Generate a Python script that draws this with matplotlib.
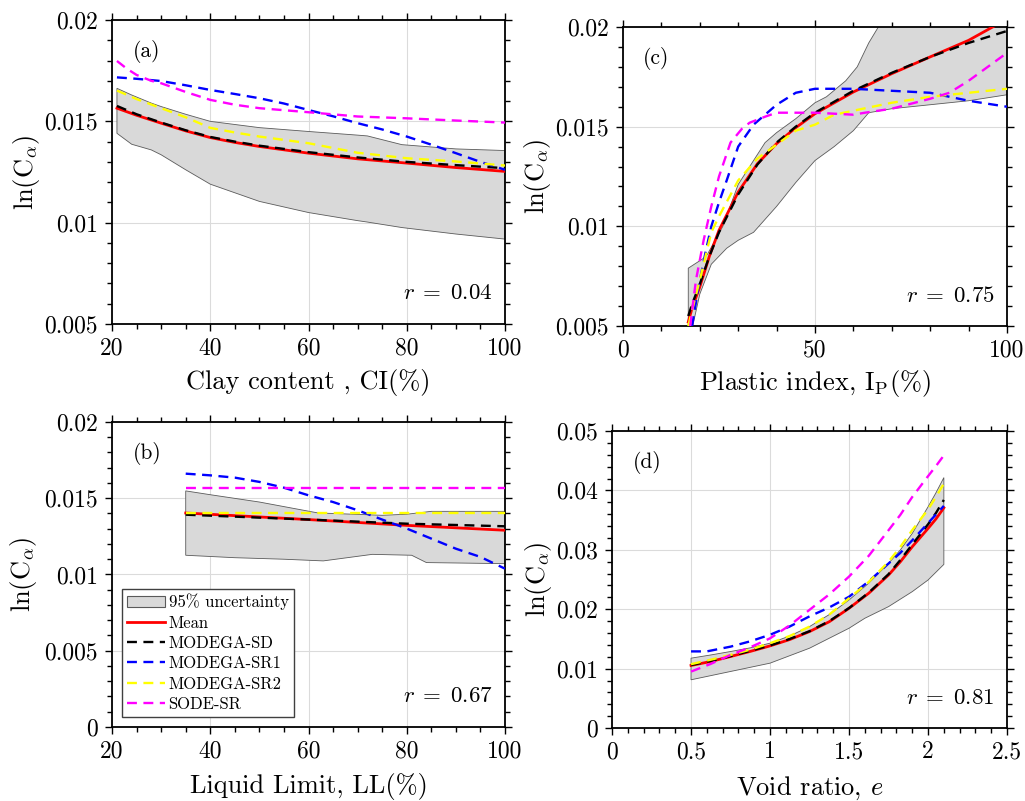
import matplotlib
matplotlib.use("Agg")
import numpy as np
import matplotlib.pyplot as plt
from matplotlib.ticker import MultipleLocator, FuncFormatter
from matplotlib.patches import Patch
from matplotlib.lines import Line2D

plt.rcParams['font.family'] = 'cmr10'
plt.rcParams['mathtext.fontset'] = 'cm'
plt.rcParams['axes.formatter.use_mathtext'] = True
plt.rcParams['axes.unicode_minus'] = False

# (a) clay content
a_band_x = [21, 24, 28, 30, 35, 40, 50, 60, 70, 72, 79, 90, 100]
a_band_hi = [0.01663, 0.0163, 0.0159, 0.01573, 0.01535, 0.0150, 0.01469, 0.0145, 0.01432, 0.01428, 0.01385, 0.01364, 0.01356]
a_band_lo = [0.01441, 0.01387, 0.01359, 0.01335, 0.01261, 0.0119, 0.01105, 0.0105, 0.0101, 0.01003, 0.00976, 0.00944, 0.00919]
a_x = [21, 25, 30, 35, 40, 45, 50, 60, 70, 80, 90, 100]
a_mean = [0.01565, 0.0153, 0.01491, 0.01453, 0.0142, 0.01396, 0.01376, 0.01343, 0.01315, 0.01294, 0.01272, 0.01253]
a_sd = [0.01576, 0.01535, 0.01494, 0.01456, 0.01423, 0.014, 0.0138, 0.01348, 0.01322, 0.013, 0.01284, 0.01269]
a_sr2 = [0.01652, 0.0161, 0.01565, 0.0152, 0.01468, 0.01445, 0.01425, 0.01392, 0.01345, 0.01318, 0.01302, 0.01282]
a_sr1_x = [21, 25, 30, 35, 40, 45, 50, 55, 60, 65, 70, 75, 80, 85, 90, 95, 100]
a_sr1 = [0.01717, 0.0171, 0.01699, 0.01678, 0.01655, 0.01635, 0.01614, 0.01588, 0.01556, 0.01525,
         0.01491, 0.0146, 0.01425, 0.01385, 0.01343, 0.013, 0.01261]
a_sode_x = [21, 23, 25, 28, 30, 35, 40, 45, 50, 60, 70, 80, 90, 100]
a_sode = [0.01798, 0.0176, 0.01729, 0.017, 0.01688, 0.01645, 0.01606, 0.01582, 0.01565, 0.01545,
          0.01524, 0.01515, 0.01504, 0.01494]

# (b) liquid limit
b_band_hi_x = [35, 40, 50, 62, 65, 75, 80, 85, 100]
b_band_hi = [0.01548, 0.01523, 0.01475, 0.01403, 0.0140, 0.01388, 0.01395, 0.01414, 0.01414]
b_band_lo_x = [35, 45, 55, 63, 73, 81, 84, 100]
b_band_lo = [0.01126, 0.0111, 0.0110, 0.01089, 0.01132, 0.01126, 0.01078, 0.01071]
b_x = [35, 60, 80, 100]
b_mean = [0.01403, 0.0136, 0.01322, 0.0129]
b_sd = [0.01392, 0.0136, 0.01333, 0.01316]
b_sr2 = [0.01403, 0.01403, 0.01403, 0.01403]
b_sode = [0.01567, 0.01567, 0.01567, 0.01567]
b_sr1_x = [35, 40, 45, 50, 55, 60, 65, 70, 75, 80, 85, 90, 95, 100]
b_sr1 = [0.01661, 0.0165, 0.01635, 0.01607, 0.01569, 0.01519, 0.01475, 0.01421, 0.0136, 0.01301,
         0.01235, 0.01169, 0.01115, 0.01038]

# (c) plastic index
c_band_hi_x = [17, 21, 22, 26, 30, 37, 40, 45, 50, 53, 58, 61, 64, 66.5, 75, 100]
c_band_hi = [0.0079, 0.0084, 0.0086, 0.0100, 0.0121, 0.0142, 0.0147, 0.0154, 0.0162, 0.0165, 0.0173,
             0.0180, 0.0192, 0.0200, 0.0215, 0.0250]
c_band_lo_x = [17, 20, 23, 27, 30, 34, 40, 45, 50, 55, 60, 64, 70, 80, 90, 100]
c_band_lo = [0.0040, 0.0066, 0.0081, 0.0089, 0.0093, 0.0097, 0.0110, 0.0122, 0.0133, 0.0140, 0.0148,
             0.0157, 0.0159, 0.0161, 0.0163, 0.0166]
c_x = [17, 18, 20, 22.5, 25, 30, 35, 40, 45, 50, 60, 70, 80, 90, 100]
c_mean = [0.0052, 0.0059, 0.00696, 0.0085, 0.0098, 0.01172, 0.01314, 0.01415, 0.01495, 0.01565,
          0.01674, 0.01766, 0.0185, 0.01933, 0.0204]
c_sd = [0.0055, 0.0061, 0.0071, 0.0085, 0.0097, 0.0116, 0.0131, 0.0142, 0.0150, 0.0157, 0.0168,
        0.0177, 0.0185, 0.0192, 0.0198]
c_sr2_x = [17, 18, 20, 23, 25, 30, 35, 40, 45, 50, 55, 60, 70, 80, 90, 100]
c_sr2 = [0.0050, 0.0058, 0.0073, 0.0097, 0.0105, 0.0123, 0.0134, 0.0141, 0.0148, 0.0151, 0.0156,
         0.0158, 0.0162, 0.0165, 0.0167, 0.0169]
c_sr1_x = [18, 19.5, 21.5, 23, 25, 27, 30, 34, 37, 40, 45, 50, 60, 70, 80, 90, 100]
c_sr1 = [0.0050, 0.0068, 0.0087, 0.0100, 0.0112, 0.0123, 0.0140, 0.0151, 0.0156, 0.0161, 0.0167,
         0.0169, 0.0169, 0.0168, 0.0167, 0.0163, 0.0160]
c_sode_x = [17.5, 19, 21, 23, 25, 28, 31, 33, 37, 40, 50, 60, 63, 70, 80, 85, 90, 100]
c_sode = [0.0050, 0.0073, 0.0093, 0.0110, 0.0125, 0.0142, 0.0149, 0.0152, 0.0155, 0.0157, 0.0157,
          0.0156, 0.0157, 0.0159, 0.0164, 0.0167, 0.0173, 0.0187]

# (d) void ratio
d_x = [0.5, 0.625, 0.75, 0.875, 1.0, 1.125, 1.25, 1.375, 1.5, 1.625, 1.75, 1.825, 1.9, 2.0, 2.05, 2.1]
d_band_hi = [0.01176, 0.0123, 0.01288, 0.0135, 0.01428, 0.0155, 0.01708, 0.0191, 0.02156, 0.0244,
             0.02772, 0.0300, 0.03276, 0.03724, 0.0396, 0.04216]
d_band_lo_x = [0.5, 0.75, 1.0, 1.25, 1.5, 1.6, 1.75, 1.9, 2.0, 2.1]
d_band_lo = [0.00812, 0.00952, 0.01092, 0.01344, 0.0168, 0.01848, 0.02044, 0.02296, 0.02492, 0.02755]
d_mean = [0.01053, 0.0112, 0.01204, 0.0129, 0.01383, 0.0149, 0.01624, 0.0179, 0.02016, 0.0227,
          0.02576, 0.0280, 0.03052, 0.0336, 0.0352, 0.03707]
d_sd = [0.0106, 0.0113, 0.0121, 0.0130, 0.0139, 0.0150, 0.0163, 0.0180, 0.0202, 0.0228, 0.0259,
        0.0283, 0.0309, 0.0343, 0.0362, 0.0384]
d_sr2 = [0.01075, 0.0115, 0.0123, 0.0132, 0.01428, 0.0155, 0.01708, 0.0191, 0.02184, 0.0246, 0.028,
         0.0305, 0.03332, 0.0368, 0.0389, 0.04115]
d_sr1_x = [0.5, 0.6, 0.75, 0.875, 1.0, 1.125, 1.25, 1.375, 1.5, 1.625, 1.75, 1.825, 1.9, 2.0, 2.1]
d_sr1 = [0.0129, 0.0129, 0.0137, 0.0146, 0.0157, 0.0171, 0.0188, 0.0203, 0.0221, 0.0247, 0.0277,
         0.0295, 0.0316, 0.0345, 0.0374]
d_sode = [0.0095, 0.0108, 0.0123, 0.0136, 0.0151, 0.0173, 0.0199, 0.0225, 0.0255, 0.0290, 0.0333,
          0.0359, 0.0389, 0.0424, 0.0441, 0.0459]

BAND_FC = '#d9d9d9'
BAND_EC = '#5a5a5a'
DASH = (4.2, 2.75)
LW_MEAN = 2.0
LW = 1.7
fmt = FuncFormatter(lambda v, p: f'{v:g}')


def draw_panel(rect, band, curves, xlim, ylim, xmaj, xmin, ymaj, ymin,
               xlabel, tag, rtext, ylab_x, xlab_y):
    ax = fig.add_axes(rect)
    hx, hy, lx, ly = band
    ax.fill(np.concatenate([hx, lx[::-1]]), np.concatenate([hy, ly[::-1]]),
            facecolor=BAND_FC, edgecolor=BAND_EC, lw=0.6, zorder=2)
    for x, y, col, ls in curves:
        if ls == '-':
            ax.plot(x, y, color=col, lw=LW_MEAN, zorder=3)
        else:
            ax.plot(x, y, color=col, lw=LW, dashes=DASH, zorder=3)
    ax.set_xlim(xlim)
    ax.set_ylim(ylim)
    ax.xaxis.set_major_locator(MultipleLocator(xmaj))
    ax.xaxis.set_minor_locator(MultipleLocator(xmin))
    ax.yaxis.set_major_locator(MultipleLocator(ymaj))
    ax.yaxis.set_minor_locator(MultipleLocator(ymin))
    ax.xaxis.set_major_formatter(fmt)
    ax.yaxis.set_major_formatter(fmt)
    ax.tick_params(which='both', direction='out', top=True, right=True,
                   labelsize=17, width=1.0)
    ax.tick_params(which='major', length=5)
    ax.tick_params(which='minor', length=3.5)
    ax.tick_params(axis='x', pad=4.5)
    ax.tick_params(axis='y', pad=5)
    for s in ax.spines.values():
        s.set_linewidth(1.3)
    ax.grid(True, which='major', color='0.86', lw=0.8)
    ax.set_axisbelow(True)
    ax.set_xlabel(xlabel, fontsize=19)
    ax.set_ylabel(r'$\mathrm{ln(C}_{\alpha}\mathrm{)}$', fontsize=19)
    ax.yaxis.set_label_coords(ylab_x, 0.5)
    ax.xaxis.set_label_coords(0.5, xlab_y)
    ax.text(0.053, 0.895, tag, transform=ax.transAxes, fontsize=15.5,
            ha='left', va='center')
    ax.text(0.968, 0.10, rtext, transform=ax.transAxes, fontsize=16.5,
            ha='right', va='center')
    return ax


def series(mx, mean, sx, sd, r1x, sr1, r2x, sr2, ox, sode):
    return [(mx, mean, 'red', '-'), (sx, sd, 'black', '--'),
            (r1x, sr1, 'blue', '--'), (r2x, sr2, 'yellow', '--'),
            (ox, sode, 'magenta', '--')]


fig = plt.figure(figsize=(10.25, 8.01), dpi=100)

arr = np.asarray
draw_panel([0.1093, 0.5955, 0.3834, 0.3795],
           (arr(a_band_x), arr(a_band_hi), arr(a_band_x), arr(a_band_lo)),
           series(a_x, a_mean, a_x, a_sd, a_sr1_x, a_sr1, a_x, a_sr2, a_sode_x, a_sode),
           (20, 100), (0.005, 0.02), 20, 5, 0.005, 0.001,
           'Clay content , CI(%)', '(a)', r'$r\;=\;0.04$', -0.178, -0.147)

draw_panel([0.6078, 0.5930, 0.3746, 0.3733],
           (arr(c_band_hi_x), arr(c_band_hi), arr(c_band_lo_x), arr(c_band_lo)),
           series(c_x, c_mean, c_x, c_sd, c_sr1_x, c_sr1, c_sr2_x, c_sr2, c_sode_x, c_sode),
           (0, 100), (0.005, 0.02), 50, 10, 0.005, 0.001,
           r'Plastic index, I$_{\mathrm{P}}$(%)', '(c)', r'$r\;=\;0.75$', -0.183, -0.14)

axb = draw_panel([0.1093, 0.0924, 0.3834, 0.3808],
                 (arr(b_band_hi_x), arr(b_band_hi), arr(b_band_lo_x), arr(b_band_lo)),
                 series(b_x, b_mean, b_x, b_sd, b_sr1_x, b_sr1, b_x, b_sr2, b_x, b_sode),
                 (20, 100), (0, 0.02), 20, 5, 0.005, 0.001,
                 'Liquid Limit, LL(%)', '(b)', r'$r\;=\;0.67$', -0.185, -0.15)

draw_panel([0.5971, 0.0911, 0.3854, 0.3708],
           (arr(d_x), arr(d_band_hi), arr(d_band_lo_x), arr(d_band_lo)),
           series(d_x, d_mean, d_x, d_sd, d_sr1_x, d_sr1, d_x, d_sr2, d_x, d_sode),
           (0, 2.5), (0, 0.05), 0.5, 0.1, 0.01, 0.002,
           r'Void ratio, $e$', '(d)', r'$r\;=\;0.81$', -0.148, -0.157)

handles = [Patch(facecolor=BAND_FC, edgecolor=BAND_EC, lw=0.8),
           Line2D([], [], color='red', lw=LW_MEAN),
           Line2D([], [], color='black', lw=LW, dashes=DASH),
           Line2D([], [], color='blue', lw=LW, dashes=DASH),
           Line2D([], [], color='yellow', lw=LW, dashes=DASH),
           Line2D([], [], color='magenta', lw=LW, dashes=DASH)]
labels = ['95% uncertainty', 'Mean', 'MODEGA-SD', 'MODEGA-SR1', 'MODEGA-SR2', 'SODE-SR']
leg = axb.legend(handles, labels, loc='lower left', bbox_to_anchor=(0.025, 0.033),
                 borderaxespad=0, fontsize=12, frameon=True, fancybox=False,
                 edgecolor='0.25', framealpha=1, handlelength=2.3, handletextpad=0.2,
                 labelspacing=0.3, borderpad=0.3)
leg.get_frame().set_linewidth(1.0)

fig.savefig('out.png', dpi=100)
